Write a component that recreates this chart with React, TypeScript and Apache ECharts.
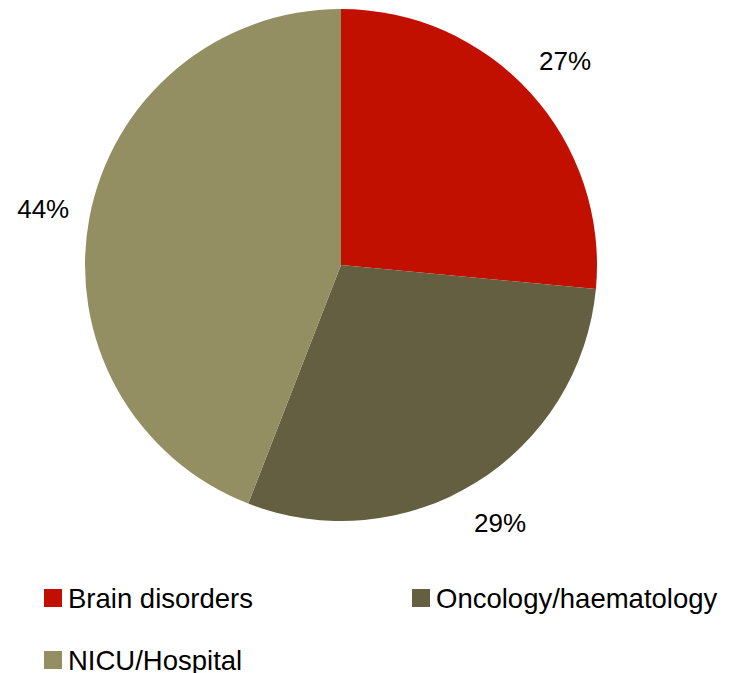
import React, { useEffect, useRef } from "react";
import * as echarts from "echarts";

const categories = ["Brain disorders", "Oncology/haematology", "NICU/Hospital"];
const shares = [26.5, 29.4, 44.1];
const colors = ["#C21000", "#635F40", "#938F62"];

export default function App() {
  const ref = useRef<HTMLDivElement>(null);
  useEffect(() => {
    const chart = echarts.init(ref.current!, null, { renderer: "svg" });
    const data = categories.map((name, i) => ({
      name,
      value: shares[i],
      itemStyle: { color: colors[i] },
    }));
    const font = "'Liberation Sans', Arial, sans-serif";
    const legendPos = [
      { left: 44, top: 584 },
      { left: 412, top: 584 },
      { left: 44, top: 646 },
    ];
    chart.setOption({
      animation: false,
      backgroundColor: "#ffffff",
      legend: categories.map((name, i) => ({
        data: [name],
        left: legendPos[i].left,
        top: legendPos[i].top,
        icon: "rect",
        itemWidth: 18,
        itemHeight: 18,
        padding: 0,
        selectedMode: false,
        textStyle: {
          fontFamily: font,
          fontSize: 27.5,
          color: "#000",
          lineHeight: 28,
          padding: [0, 0, 0, 1],
        },
      })),
      series: [
        {
          type: "pie",
          center: [341, 265],
          radius: [0, 256],
          startAngle: 90,
          clockwise: true,
          silent: true,
          label: { show: false },
          labelLine: { show: false },
          data,
        },
        {
          type: "pie",
          center: [341, 265],
          radius: [292, 308],
          startAngle: 90,
          clockwise: true,
          silent: true,
          itemStyle: { color: "rgba(0,0,0,0)" },
          label: {
            show: true,
            position: "inside",
            rotate: 0,
            fontFamily: font,
            fontSize: 26,
            color: "#000",
            formatter: (p: any) => `${Math.round(p.percent)}%`,
          },
          labelLine: { show: false },
          emphasis: { disabled: true },
          data: categories.map((name, i) => ({
            name,
            value: shares[i],
            itemStyle: { color: "rgba(0,0,0,0)" },
          })),
        },
      ],
    });
    return () => chart.dispose();
  }, []);
  return (
    <div
      ref={ref}
      style={{ position: "fixed", left: 0, top: 0, width: 732, height: 673 }}
    />
  );
}
